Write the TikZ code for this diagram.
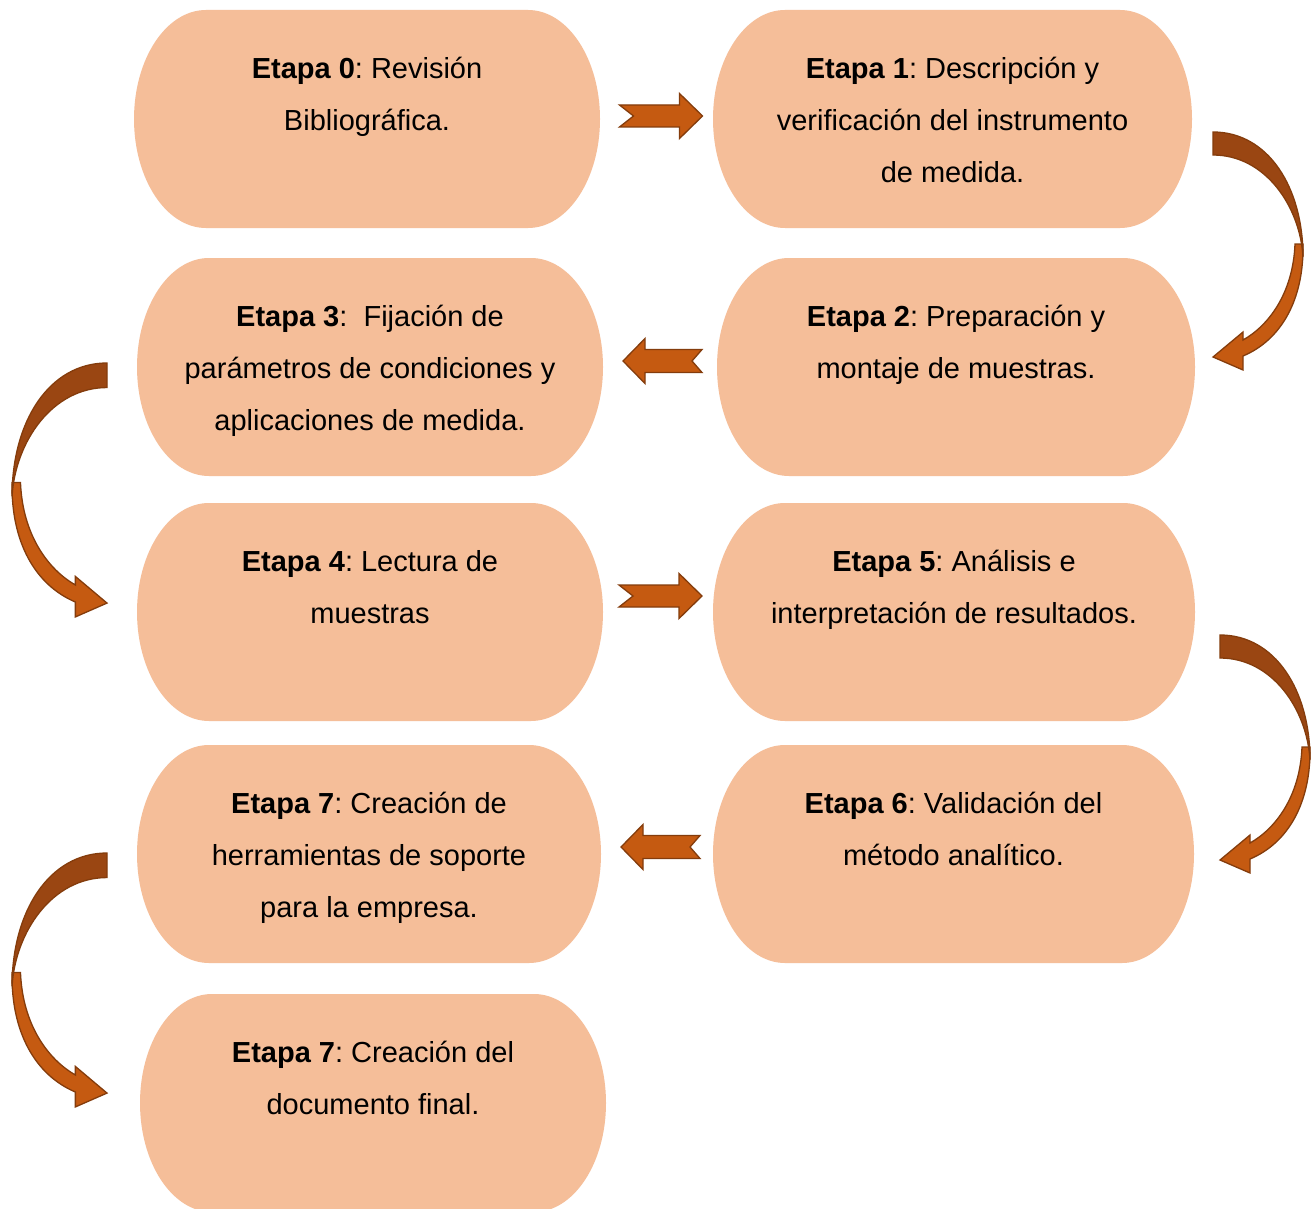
\documentclass[tikz,border=0pt]{standalone}
\usepackage{fontspec}
\setmainfont{Liberation Sans}
\usetikzlibrary{calc,backgrounds}
\definecolor{boxfill}{HTML}{F5BE99}
\definecolor{arrlight}{HTML}{C55A11}
\definecolor{arrdark}{HTML}{9A4612}
\definecolor{arredge}{HTML}{843C0C}
\tikzset{
  stagebox/.style={rectangle, inner sep=0pt, outer sep=0pt, minimum height=218pt},
  lbl/.style={anchor=north, align=center, inner sep=0pt, font=\fontsize{29}{52}\selectfont\frenchspacing},
  arrowpart/.style={draw=arredge, line width=1.3pt, line join=miter},
  rnotch/.pic={
    \path[arrowpart, fill=arrlight] (-41,-11) -- (19,-11) -- (19,-22.5) -- (42,0) -- (19,22.5) -- (19,11) -- (-41,11) -- (-27,0) -- cycle;
  },
  lnotch/.pic={
    \path[arrowpart, fill=arrlight] (40,-11.5) -- (-17,-11.5) -- (-17,-22.5) -- (-39,0) -- (-17,22.5) -- (-17,11.5) -- (40,11.5) -- (30,0) -- cycle;
  },
  curved/.pic={
    \path[arrowpart, fill=arrlight] (90,112) .. controls (91,168) and (68,208) .. (30,224) -- (30,238) -- (0,225) -- (30,200) -- (30,208) .. controls (55,194) and (80,162) .. (82,112) -- cycle;
    \path[arrowpart, fill=arrdark] (0,0) .. controls (55,0) and (90,55) .. (90,125) .. controls (87,74) and (52,23) .. (0,23) -- cycle;
  }
}
\newcommand{\stageshape}[1]{%
  \fill[boxfill] ([xshift=72pt]#1.north west) -- ([xshift=-72pt]#1.north east)
    arc[start angle=90, end angle=-90, x radius=72pt, y radius=109pt]
    -- ([xshift=72pt]#1.south west)
    arc[start angle=270, end angle=90, x radius=72pt, y radius=109pt] -- cycle;}
\begin{document}
\begin{tikzpicture}[x=1pt, y=-1pt]
\useasboundingbox (0,0) rectangle (1311,1209);
\clip (0,0) rectangle (1311,1209);

% stage boxes
\node[stagebox, minimum width=466pt] (e0) at (367,119) {};
\node[stagebox, minimum width=479pt] (e1) at (952.5,119) {};
\node[stagebox, minimum width=478pt] (e2) at (956,367) {};
\node[stagebox, minimum width=466pt] (e3) at (370,367) {};
\node[stagebox, minimum width=466pt] (e4) at (370,612) {};
\node[stagebox, minimum width=482pt] (e5) at (954,612) {};
\node[stagebox, minimum width=481pt] (e6) at (953.5,854) {};
\node[stagebox, minimum width=464pt] (e7) at (369,854) {};
\node[stagebox, minimum width=466pt] (e8) at (373,1103) {};

\begin{scope}[on background layer]
\fill[white] (0,0) rectangle (1311,1209);
\foreach \n in {e0,e1,e2,e3,e4,e5,e6,e7,e8} {\stageshape{\n}}
\end{scope}

% texts
\node[lbl] (t0) at ([yshift=-31.6pt]e0.north) {\strut\textbf{Etapa 0}: Revisión\\Bibliográfica.};
\node[lbl] (t1) at ([yshift=-31.6pt]e1.north) {\strut\textbf{Etapa 1}: Descripción y\\verificación del instrumento\\de medida.};
\node[lbl] (t2) at ([yshift=-31.6pt]e2.north) {\strut\textbf{Etapa 2}: Preparación y\\montaje de muestras.};
\node[lbl] (t3) at ([yshift=-31.6pt]e3.north) {\strut\textbf{Etapa 3}:\ \ Fijación de\\parámetros de condiciones y\\aplicaciones de medida.};
\node[lbl] (t4) at ([yshift=-31.6pt]e4.north) {\strut\textbf{Etapa 4}: Lectura de\\muestras};
\node[lbl] (t5) at ([yshift=-31.6pt]e5.north) {\strut\textbf{Etapa 5}: Análisis e\\interpretación de resultados.};
\node[lbl] (t6) at ([yshift=-31.6pt]e6.north) {\strut\textbf{Etapa 6}: Validación del\\método analítico.};
\node[lbl] (t7) at ([yshift=-31.6pt]e7.north) {\strut\textbf{Etapa 7}: Creación de\\herramientas de soporte\\para la empresa.};
\node[lbl] (t8) at ([yshift=-31.6pt]e8.north) {\strut\textbf{Etapa 7}: Creación del\\documento final.};

% connectors
\coordinate (a01) at ($(e0.east)!0.5!(e1.west)+(4,-3)$);
\coordinate (a23) at ($(e3.east)!0.5!(e2.west)+(2,-6)$);
\coordinate (a45) at ($(e4.east)!0.5!(e5.west)+(2,-16)$);
\coordinate (a67) at ($(e7.east)!0.5!(e6.west)+(3,-7)$);
\pic at (a01) {rnotch};
\pic at (a23) {lnotch};
\pic at (a45) {rnotch};
\pic at (a67) {lnotch};

\coordinate (c12) at ([shift={(21,122)}]e1.north east);
\coordinate (c34) at ([shift={(-30,-4)}]e3.west);
\coordinate (c56) at ([shift={(25,23)}]e5.east);
\coordinate (c78) at ([shift={(-30,-1)}]e7.west);
\pic at (c12) {curved};
\pic[xscale=-1.055, yscale=1.067] at (c34) {curved};
\pic at (c56) {curved};
\pic[xscale=-1.055, yscale=1.067] at (c78) {curved};
\end{tikzpicture}
\end{document}
